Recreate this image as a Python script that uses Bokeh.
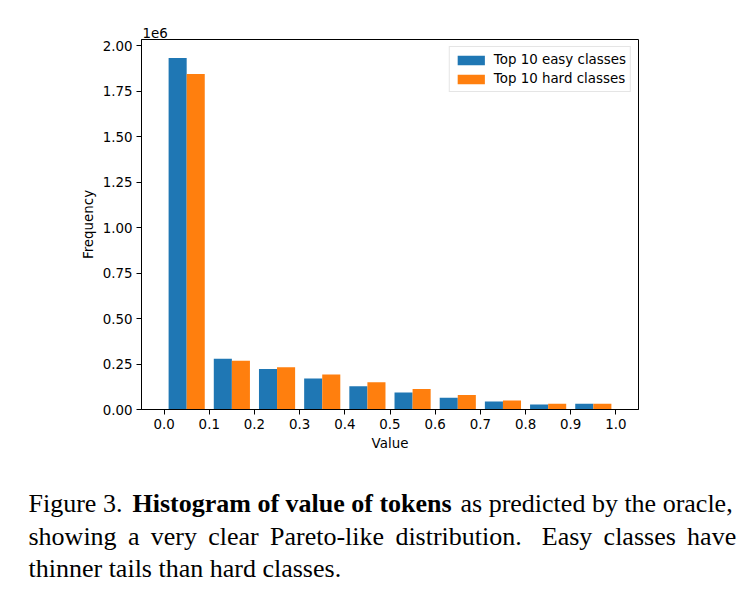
from bokeh.plotting import figure
from bokeh.models import Range1d, FixedTicker, CustomJSTickFormatter, ColumnDataSource
from bokeh.transform import dodge
from bokeh.layouts import column, row
from bokeh.core.properties import value
from bokeh.embed import file_html
from bokeh.resources import INLINE

# ---------------- data ----------------
bin_edges = [0.0, 0.1, 0.2, 0.3, 0.4, 0.5, 0.6, 0.7, 0.8, 0.9, 1.0]
easy_counts = [1932000, 279000, 222000, 170000, 128000, 93000, 64000, 44000, 27000, 31000]
hard_counts = [1844000, 268000, 232000, 192000, 150000, 112000, 79000, 49000, 31000, 31000]
series_labels = ["Top 10 easy classes", "Top 10 hard classes"]
y_tick_values = [0, 250000, 500000, 750000, 1000000, 1250000, 1500000, 1750000, 2000000]
x_label = "Value"
y_label = "Frequency"
exponent_label = "1e6"

caption_line1 = [("Figure 3.", "normal"), ("Histogram of value of tokens", "bold"),
                 ("as predicted by the oracle,", "normal")]
caption_line2 = ["showing", "a", "very", "clear", "Pareto-like", "distribution.",
                 "Easy", "classes", "have"]
caption_line3 = "thinner tails than hard classes."

# ---------------- layout / style ----------------
EASY = "#1f77b4"
HARD = "#ff7f0e"
TICK_FONT = "DejaVu Sans"
TICK_SIZE = "13.4px"
CAP_FONT = "Liberation Serif"
CAP_SIZE = "26px"

bin_width = bin_edges[1] - bin_edges[0]
centers = [(a + b) / 2 for a, b in zip(bin_edges[:-1], bin_edges[1:])]
bar_w = bin_width * 0.8 / 2
src = ColumnDataSource(dict(center=centers, easy=easy_counts, hard=hard_counts))

p = figure(width=755, height=470, title=exponent_label,
           x_range=Range1d(-0.05, 1.05), y_range=Range1d(0, 2.033e6),
           output_backend="svg", toolbar_location=None,
           min_border_left=141, min_border_right=117,
           min_border_top=39, min_border_bottom=61)

p.title.align = "left"
p.title.offset = 1
p.title.standoff = 3
p.title.text_font = TICK_FONT
p.title.text_font_size = TICK_SIZE
p.title.text_font_style = "normal"
p.title.text_color = "black"

p.vbar(x=dodge("center", -bar_w / 2, range=p.x_range), top="easy", width=bar_w,
       source=src, fill_color=EASY, line_color=None, legend_label=series_labels[0])
p.vbar(x=dodge("center", bar_w / 2, range=p.x_range), top="hard", width=bar_w,
       source=src, fill_color=HARD, line_color=None, legend_label=series_labels[1])

p.grid.visible = False
p.outline_line_color = "black"
p.outline_line_width = 1
p.background_fill_color = "white"
p.border_fill_color = "white"

p.xaxis.ticker = FixedTicker(ticks=bin_edges)
p.xaxis.formatter = CustomJSTickFormatter(code="return tick.toFixed(1);")
p.yaxis.ticker = FixedTicker(ticks=y_tick_values)
p.yaxis.formatter = CustomJSTickFormatter(code="return (tick/1e6).toFixed(2);")

for ax in (p.xaxis[0], p.yaxis[0]):
    ax.axis_line_color = "black"
    ax.axis_line_width = 1
    ax.major_tick_line_color = "black"
    ax.major_tick_line_width = 1
    ax.major_tick_out = 5
    ax.major_tick_in = 0
    ax.minor_tick_out = 0
    ax.minor_tick_in = 0
    ax.major_label_text_font = TICK_FONT
    ax.major_label_text_font_size = TICK_SIZE
    ax.major_label_text_color = "black"
    ax.axis_label_text_font = TICK_FONT
    ax.axis_label_text_font_size = TICK_SIZE
    ax.axis_label_text_font_style = "normal"
    ax.axis_label_text_color = "black"
    ax.major_label_standoff = 4
    ax.axis_label_standoff = 4

p.xaxis.axis_label = x_label
p.yaxis.axis_label = y_label

lg = p.legend[0]
lg.location = "top_right"
lg.margin = 7
lg.padding = 4
lg.spacing = 2
lg.glyph_width = 34
lg.glyph_height = 12
lg.label_height = 17
lg.label_standoff = 6
lg.label_text_font = TICK_FONT
lg.label_text_font_size = TICK_SIZE
lg.label_text_color = "black"
lg.border_line_color = "#cccccc"
lg.border_line_width = 1
lg.background_fill_alpha = 0.8

# ---------------- caption ----------------
c = figure(width=755, height=140, x_range=Range1d(0, 755), y_range=Range1d(140, 0),
           output_backend="svg", toolbar_location=None, min_border=0,
           x_axis_location=None, y_axis_location=None)
c.grid.visible = False
c.outline_line_color = None
c.background_fill_color = "white"
c.border_fill_color = "white"

line1_x = [28, 132, 460]
line2_x = [28, 127.4, 150.2, 207.7, 269.5, 394.9, 541.3, 603.1, 686.6]
base_y = [33, 66, 98]

for (txt, style), x in zip(caption_line1, line1_x):
    c.text(x=[x], y=[base_y[0]], text=[txt], text_font=value(CAP_FONT),
           text_font_size=CAP_SIZE, text_font_style=style, text_color="black",
           text_align="left", text_baseline="alphabetic")
c.text(x=line2_x, y=[base_y[1]] * len(caption_line2), text=caption_line2,
       text_font=value(CAP_FONT), text_font_size=CAP_SIZE, text_color="black",
       text_align="left", text_baseline="alphabetic")
c.text(x=[28], y=[base_y[2]], text=[caption_line3], text_font=value(CAP_FONT),
       text_font_size=CAP_SIZE, text_color="black", text_align="left",
       text_baseline="alphabetic")

layout = column(p, row(c), spacing=0)
open("out.html", "w").write(file_html(layout, INLINE))
